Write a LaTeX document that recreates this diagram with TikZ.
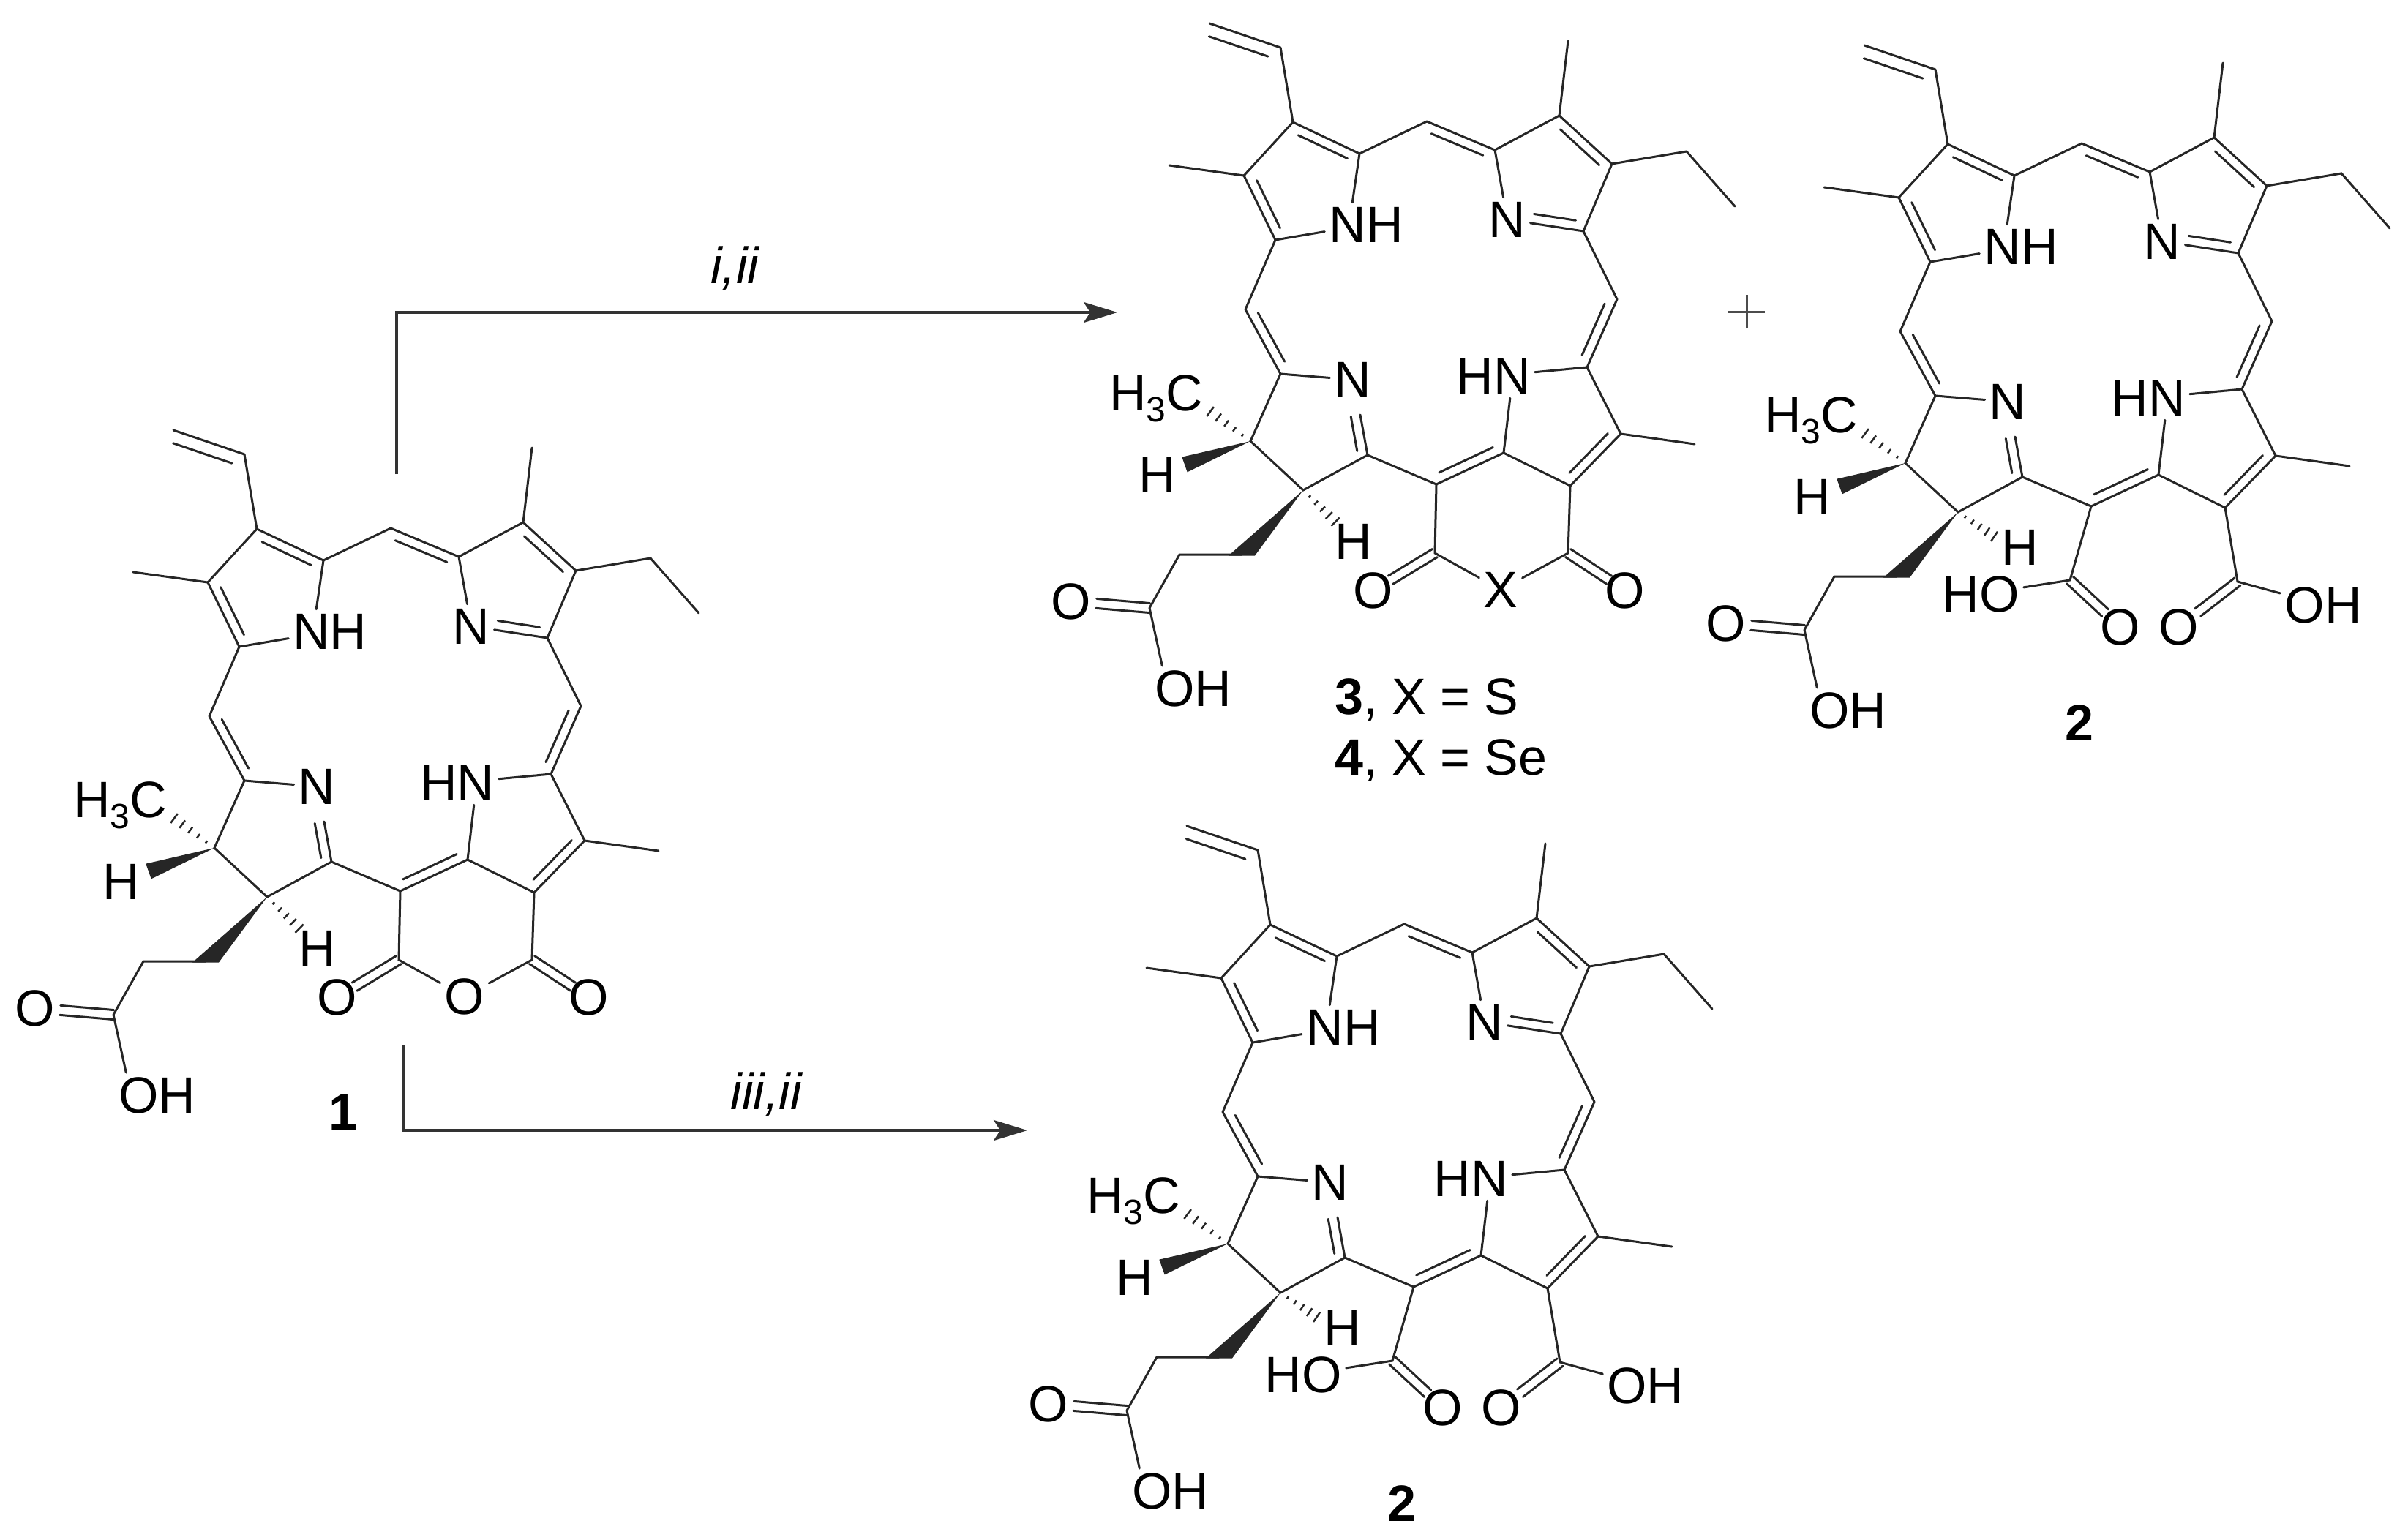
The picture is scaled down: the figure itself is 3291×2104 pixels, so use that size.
\documentclass[tikz,border=0pt]{standalone}
\usepackage{fontspec}
\setmainfont{Liberation Sans}
\usetikzlibrary{calc,arrows.meta}

\definecolor{ink}{gray}{0.15}
\tikzstyle{atom} = [inner sep=6pt, text=black, font=\fontsize{70}{70}\selectfont]
\tikzstyle{caption} = [inner sep=0pt, text=black, font=\fontsize{70}{70}\selectfont]
\tikzstyle{bond} = [draw=ink, line width=3pt, line cap=round]
\tikzstyle{hash} = [draw=ink, line width=2.5pt]
\tikzstyle{arrow} = [draw=black!80, line width=3.5pt, -{Stealth[length=46pt,width=28pt,inset=9pt]}]

% double bond, second line on the left of a->b
\newcommand{\dbl}[5]{
  \draw[bond] (#1) -- (#2);
  \draw[bond] ($(#1)!#4!(#2)!#3!90:(#2)$) -- ($(#2)!#5!(#1)!#3!-90:(#1)$);
}
% double bond, both lines either side of the axis
\newcommand{\sbl}[3]{
  \draw[bond] ($(#1)!6.5pt!90:(#2)$) -- ($(#1)!#3!(#2)!6.5pt!90:(#2)$);
  \draw[bond] ($(#1)!6.5pt!-90:(#2)$) -- ($(#1)!#3!(#2)!6.5pt!-90:(#2)$);
}
\newcommand{\hashed}[2]{
  \foreach \t/\w in {.18/2,.36/3.5,.54/5,.72/6.5,.9/8}
    \draw[hash] ($(#1)!\t!(#2)!\w pt!90:(#2)$) -- ($(#1)!\t!(#2)!\w pt!-90:(#2)$);
}

\newcommand{\chlorin}{
  % ring A
  \coordinate (vin2) at (1653,32);
  \coordinate (vin1) at (1750,65);
  \coordinate (a1) at (1743,328);
  \coordinate (a2) at (1858,210);
  \coordinate (a3) at (1767,167);
  \coordinate (a4) at (1700,240);
  \coordinate (ame) at (1598,226);
  \node[atom] (nh) at (1867,307) {NH};
  % ring B
  \coordinate (b1) at (2043,205);
  \coordinate (b2) at (2131,158);
  \coordinate (b3) at (2203,224);
  \coordinate (b4) at (2164,316);
  \coordinate (bme) at (2143,56);
  \coordinate (et1) at (2305,207);
  \coordinate (et2) at (2371,282);
  \node[atom] (nb) at (2060,300) {N};
  % ring C
  \coordinate (c1) at (2169,502);
  \coordinate (c2) at (2215,593);
  \coordinate (c3) at (2146,664);
  \coordinate (c4) at (2055,619);
  \coordinate (cme) at (2316,607);
  \node[atom] (hn) at (2041,514) {HN};
  % ring D
  \coordinate (d1) at (1750,511);
  \coordinate (d2) at (1709,603);
  \coordinate (d3) at (1781,670);
  \coordinate (d4) at (1869,622);
  \coordinate (nd2) at (1859,567);
  \node[atom] (nd) at (1849,519) {N};
  % meso carbons
  \coordinate (m1) at (1950,166);
  \coordinate (m2) at (2210,409);
  \coordinate (m3) at (1963,662);
  \coordinate (m4) at (1702,423);
  % single bonds
  \draw[bond] (a3) -- (vin1);
  \draw[bond] (a4) -- (ame);
  \draw[bond] (a3) -- (a4);
  \draw[bond] (m1) -- (a2);
  \draw[bond] (a1) -- (nh);
  \draw[bond] (a2) -- ([xshift=38pt]nh.north west);
  \draw[bond] (a1) -- (m4);
  \draw[bond] (b2) -- (bme);
  \draw[bond] (b1) -- (b2);
  \draw[bond] (b1) -- (nb);
  \draw[bond] (b3) -- (et1) -- (et2);
  \draw[bond] (b3) -- (b4);
  \draw[bond] (b4) -- (m2);
  \draw[bond] (c1) -- (hn);
  \draw[bond] (c4) -- ([xshift=-34pt]hn.south east);
  \draw[bond] (c1) -- (c2);
  \draw[bond] (c2) -- (cme);
  \draw[bond] (c3) -- (c4);
  \draw[bond] (d1) -- (nd);
  \draw[bond] (d1) -- (d2) -- (d3) -- (d4) -- (m3);
  % double bonds
  \dbl{vin1}{vin2}{17pt}{.12}{.05}
  \dbl{a2}{a3}{13pt}{.12}{.14}
  \dbl{a4}{a1}{13pt}{.14}{.12}
  \dbl{b1}{m1}{13pt}{.12}{.12}
  \dbl{b3}{b2}{13pt}{.12}{.14}
  \dbl{nb}{b4}{13pt}{.33}{.12}
  \dbl{c1}{m2}{13pt}{.12}{.12}
  \dbl{m4}{d1}{13pt}{.12}{.12}
  \dbl{d4}{nd2}{13pt}{.14}{0}
  \dbl{m3}{c4}{13pt}{.1}{.1}
  \dbl{c3}{c2}{13pt}{.12}{.12}
  % methyl and H on ring D
  \node[caption, anchor=base west] (me3) at (1516,561) {H\raisebox{-.22em}{\fontsize{48}{48}\selectfont 3}C};
  \coordinate (me3end) at (1648,558);
  \hashed{d2}{me3end}
  \coordinate (h1tip) at (1619,635);
  \fill[ink] (d2) -- ($(h1tip)!11pt!90:(d2)$) -- ($(h1tip)!11pt!-90:(d2)$) -- cycle;
  \node[atom] (h1) at (1582,649) {H};
  % propionic acid
  \coordinate (pr1) at (1697,758);
  \coordinate (pr2) at (1612,758);
  \coordinate (pr3) at (1571,831);
  \fill[ink] (d3) -- ($(pr1)+(-18,1.5)$) -- ($(pr1)+(18,1.5)$) -- cycle;
  \node[atom] (po) at (1464,822) {O};
  \node[atom] (poh) at (1631,941) {OH};
  \draw[bond] (pr1) -- (pr2) -- (pr3);
  \draw[bond] (pr3) -- ([xshift=16pt]poh.north west);
  \sbl{pr3}{po}{.68}
}

% ring closed through X
\newcommand{\closedring}[1]{
  \coordinate (cl) at (1961,756);
  \coordinate (cr) at (2143,756);
  \node[atom] (ol) at (1877,807) {O};
  \node[atom] (or) at (2221,807) {O};
  \node[atom] (xa) at (2051,806) {#1};
  \node[atom] (h2) at (1850,740) {H};
  \coordinate (h2end) at (1830,718);
  \hashed{d3}{h2end}
  \draw[bond] (m3) -- (cl) -- (xa) -- (cr) -- (c3);
  \sbl{cl}{ol}{.72}
  \sbl{cr}{or}{.72}
}

% ring opened, two acids
\newcommand{\twoacids}{
  \coordinate (cl) at (1934,763);
  \coordinate (cr) at (2163,765);
  \node[atom] (ho) at (1812,782) {HO};
  \node[atom] (ol) at (2003,827) {O};
  \node[atom] (or) at (2083,827) {O};
  \node[atom] (oh) at (2280,797) {OH};
  \node[atom] (h2) at (1866,718) {H};
  \coordinate (h2end) at (1836,707);
  \hashed{d3}{h2end}
  \draw[bond] (m3) -- (cl) -- (ho);
  \draw[bond] (c3) -- (cr) -- (oh);
  \sbl{cl}{ol}{.7}
  \sbl{cr}{or}{.68}
  \node[caption] (two) at (1947,958) {\textbf{2}};
}

\begin{document}
\begin{tikzpicture}[x=1pt, y=-1pt]
  \useasboundingbox (0,0) rectangle (3291,2104);

  % starting material
  \begin{scope}[shift={(-1416,556)}, name prefix=one-]
    \chlorin
    \closedring{O}
  \end{scope}
  \node[caption] (one) at (469,1520) {\textbf{1}};

  % top products
  \begin{scope}[name prefix=three-]
    \chlorin
    \closedring{X}
  \end{scope}
  \node[caption, anchor=base west] (three) at (1824,976) {\textbf{3}, X = S};
  \node[caption, anchor=base west] (four) at (1824,1059) {\textbf{4}, X = Se};

  \begin{scope}[shift={(895,30)}, name prefix=twoa-]
    \chlorin
    \twoacids
  \end{scope}
  \node[inner sep=0pt] (plus) at (2387,426) {};
  \draw[draw=black!70, line width=3pt] ([xshift=-25pt]plus.center) -- ([xshift=25pt]plus.center);
  \draw[draw=black!70, line width=3pt] ([yshift=-23pt]plus.center) -- ([yshift=23pt]plus.center);

  % bottom product
  \begin{scope}[shift={(-31,1097)}, name prefix=twob-]
    \chlorin
    \twoacids
  \end{scope}

  % arrows
  \coordinate (up0) at (542,648);
  \coordinate (up1) at (542,427);
  \coordinate (up2) at (1527,427);
  \draw[arrow] (up0) -- (up1) -- (up2);
  \node[caption, anchor=base] (stepa) at (1005,387) {\textit{i,ii}};
  \coordinate (dn0) at (551,1428);
  \coordinate (dn1) at (551,1545);
  \coordinate (dn2) at (1404,1545);
  \draw[arrow] (dn0) -- (dn1) -- (dn2);
  \node[caption, anchor=base] (stepb) at (1048,1516) {\textit{iii,ii}};
\end{tikzpicture}
\end{document}
